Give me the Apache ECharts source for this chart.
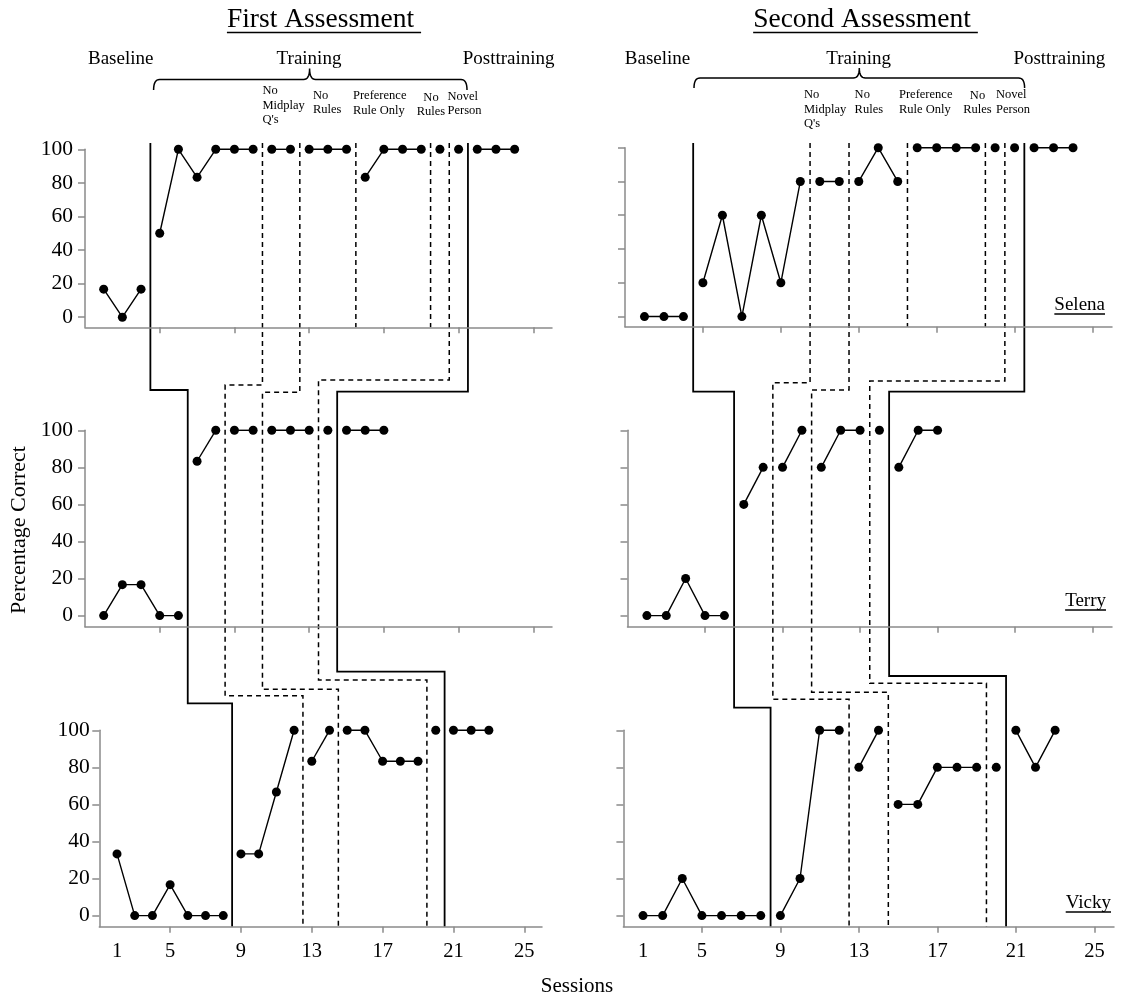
<!DOCTYPE html>
<html><head><meta charset="utf-8">
<script src="https://cdn.jsdelivr.net/npm/echarts@6/dist/echarts.min.js"></script>
<style>html,body{margin:0;padding:0;background:#fff}#c{width:1126px;height:1000px}</style>
</head><body><div id="c"></div>
<script>
// ---------------- DATA (percentage correct, by phase, consecutive sessions) ----------------
const firstSession = 2;
const selena1 = [[16.7,0,16.7],[50,100,83.3,100,100,100],[100,100],[100,100,100],[83.3,100,100,100],[100],[100],[100,100,100]];
const terry1  = [[0,16.7,16.7,0,0],[83.3,100],[100,100],[100,100,100],[100],[100,100,100]];
const vicky1  = [[33.3,0,0,16.7,0,0,0],[33.3,33.3,66.7,100],[83.3,100],[100,100,83.3,83.3,83.3],[100],[100,100,100]];
const selena2 = [[0,0,0],[20,60,0,60,20,80],[80,80],[80,100,80],[100,100,100,100],[100],[100],[100,100,100]];
const terry2  = [[0,0,20,0,0],[60,80],[80,100],[80,100,100],[100],[80,100,100]];
const vicky2  = [[0,0,20,0,0,0,0],[0,20,100,100],[80,100],[60,60,80,80,80],[80],[100,80,100]];
const xTickValues = [5,9,13,17,21,25];
const xLabelSessions = [2,5,9,13,17,21,25];
const xTickLabels = ['1','5','9','13','17','21','25'];
const yTickValues = [0,20,40,60,80,100];
const participants = ['Selena','Terry','Vicky'];
const assessments = ['First Assessment','Second Assessment'];
const phaseHeaders = ['Baseline','Training','Posttraining'];
const subLabels = [['No','Midplay',"Q's"],['No','Rules'],['Preference','Rule Only'],['No','Rules'],['Novel','Person']];
const selenaBoundaryKinds = ['base','A','B','pref','rules2','C','post'];
const otherBoundaryKinds  = ['base','A','B','C','post'];

// ---------------- LAYOUT ----------------
const FONT = '"Liberation Serif","Times New Roman",serif';
const AX = '#8a8a8a';
const grids = [
  {left:85,   top:149.3, width:467,   height:178},
  {left:85,   top:430.3, width:467,   height:196.4},
  {left:99.3, top:730.3, width:442.7, height:196.4},
  {left:625,  top:147.7, width:487,   height:179},
  {left:627.5,top:430.3, width:484.5, height:196.4},
  {left:623.4,top:730.3, width:490.6, height:196.4}
];
const yLabelMargin = [12, 12, 9.5];
const panels = [selena1, terry1, vicky1, selena2, terry2, vicky2];

const chart = echarts.init(document.getElementById('c'), null, {renderer:'canvas'});
const xAxes = [], yAxes = [], series = [];
grids.forEach((g, gi) => {
  const isBottom = gi % 3 === 2, isLeft = gi < 3;
  xAxes.push({gridIndex:gi, type:'value', min:1, max:26,
    axisLine:{show:true, onZero:false, lineStyle:{color:AX, width:1.5}},
    axisTick:{show:true, customValues:xTickValues, length:6, lineStyle:{color:AX, width:1.5}},
    axisLabel:{show:isBottom, customValues:xLabelSessions, margin:14, fontSize:20.5, color:'#000', fontFamily:FONT,
      formatter:v => xTickLabels[xLabelSessions.indexOf(v)]},
    splitLine:{show:false}});
  yAxes.push({gridIndex:gi, type:'value', min:-6, max:100,
    axisLine:{show:true, onZero:false, lineStyle:{color:AX, width:1.5}},
    axisTick:{show:true, customValues:yTickValues, length:7, lineStyle:{color:AX, width:1.5}},
    axisLabel:{show:isLeft, customValues:yTickValues, margin: isLeft ? yLabelMargin[gi] : 12, fontSize:21.5, color:'#000', fontFamily:FONT},
    splitLine:{show:false}});
  let s = firstSession;
  panels[gi].forEach(ph => {
    series.push({type:'line', xAxisIndex:gi, yAxisIndex:gi, clip:false, silent:true,
      data: ph.map((v,k) => [s+k, v]),
      symbol:'circle', symbolSize:9, itemStyle:{color:'#000'},
      lineStyle:{color:'#000', width:1.4}});
    s += ph.length;
  });
});
chart.setOption({animation:false, backgroundColor:'#fff',
  grid: grids.map(g => Object.assign({containLabel:false}, g)),
  xAxis:xAxes, yAxis:yAxes, series});

// ---------------- PHASE-CHANGE LINES ----------------
function boundaries(phases){ const b=[]; let s=firstSession; for(let i=0;i<phases.length-1;i++){ s+=phases[i].length; b.push(s-0.5);} return b; }
const px = (gi, x) => chart.convertToPixel({gridIndex:gi}, [x, 0])[0];
const py = (gi, y) => chart.convertToPixel({gridIndex:gi}, [1, y])[1];
const stepY = [
  {base:[390,703.3], A:[385,695.7], B:[392.3,689.3], C:[380,680], post:[391.7,671.7]},
  {base:[391.7,707.7], A:[382.7,699.3], B:[390,692.3], C:[381,683.3], post:[391.7,676]}
];
const TOPY = 143;
const graphic = [];
function poly(points, dashed, w){
  graphic.push({type:'polyline', silent:true, shape:{points},
    style:{stroke:'#000', lineWidth: w || (dashed?1.5:1.8), lineDash: dashed?[5,4]:null, fill:null}});
}
[0,1].forEach(c => {
  const gS=c*3, gT=c*3+1, gV=c*3+2;
  const bS=boundaries(panels[gS]), bT=boundaries(panels[gT]), bV=boundaries(panels[gV]);
  otherBoundaryKinds.forEach(kind => {
    const x0=px(gS,bS[selenaBoundaryKinds.indexOf(kind)]);
    const x1=px(gT,bT[otherBoundaryKinds.indexOf(kind)]);
    const x2=px(gV,bV[otherBoundaryKinds.indexOf(kind)]);
    const [y1,y2]=stepY[c][kind];
    poly([[x0,TOPY],[x0,y1],[x1,y1],[x1,y2],[x2,y2],[x2,py(gV,-6)]], !(kind==='base'||kind==='post'));
  });
  ['pref','rules2'].forEach(kind => {
    const x0=px(gS,bS[selenaBoundaryKinds.indexOf(kind)]);
    poly([[x0,TOPY],[x0,py(gS,-6)]], true);
  });
});

// ---------------- TEXT ----------------
const ctx = document.createElement('canvas').getContext('2d');
function textW(str, size){ ctx.font = size+'px "Liberation Serif"'; return ctx.measureText(str).width; }
function text(str, x, y, size, align, extra){
  graphic.push(Object.assign({type:'text', silent:true, x, y,
    style:{text:str, fontSize:size, fontFamily:FONT, fill:'#000', align:align||'center', verticalAlign:'middle'}}, extra||{}));
}
function uline(x1, x2, y, w){ graphic.push({type:'line', silent:true, shape:{x1,y1:y,x2,y2:y}, style:{stroke:'#000', lineWidth:w||1.3}}); }

// titles
const titleX=[320.5,862];
const TS = 27.5;
assessments.forEach((t,i) => {
  text(t, titleX[i], 19.5, TS);
  const w = textW(t,TS);
  uline(titleX[i]-w/2, titleX[i]+w/2+7, 32.5, 1.5);
});
// phase headers
const headerX=[[120.7,309,508.6],[657.5,858.6,1059.3]];
headerX.forEach(row => row.forEach((x,k) => text(phaseHeaders[k], x, 59, 19)));
// braces (quadratic corners sampled into a polyline)
function quad(p0,p1,p2,n){ const out=[]; for(let i=0;i<=n;i++){const t=i/n,a=(1-t)*(1-t),b=2*(1-t)*t,c=t*t; out.push([a*p0[0]+b*p1[0]+c*p2[0], a*p0[1]+b*p1[1]+c*p2[1]]);} return out; }
function brace(x1,xc,x2,yl,ye,yp){
  const r=6, pts=[];
  pts.push(...quad([x1,ye],[x1,yl],[x1+r,yl],8));
  pts.push(...quad([xc-r,yl],[xc,yl],[xc,yp],8));
  pts.push(...quad([xc,yp],[xc,yl],[xc+r,yl],8));
  pts.push(...quad([x2-r,yl],[x2,yl],[x2,ye],8));
  poly(pts, false, 1.5);
}
brace(153.6,309.6,467,79.5,90,68.5);
brace(694,859.3,1024.6,78,88,68);
// sub-phase labels
const subPos = [
  [[262.5,91,'left'],[313,95.5,'left'],[353,96,'left'],[431,97.5,'center'],[447.5,96.5,'left']],
  [[804,95,'left'],[854.6,95,'left'],[899,95,'left'],[977.5,95.5,'center'],[996,95,'left']]
];
subPos.forEach(col => col.forEach((p,k) => {
  graphic.push({type:'text', silent:true, x:p[0], y:p[1]-7.25,
    style:{text:subLabels[k].join('\n'), fontSize:12.5, lineHeight:14.5, fontFamily:FONT, fill:'#000', align:p[2], verticalAlign:'top'}});
}));
// participant names
const nameY=[305,601,903];
const nameRight=[1105,1106,1111];
participants.forEach((n,k) => {
  text(n, nameRight[k], nameY[k], 19, 'right');
  const w=textW(n,19);
  uline(nameRight[k]-w, nameRight[k], nameY[k]+9, 1.5);
});
// axis titles
text('Percentage Correct', 19, 530, 22, 'center', {rotation:Math.PI/2});
text('Sessions', 577, 986, 21);

chart.setOption({graphic});
</script></body></html>
